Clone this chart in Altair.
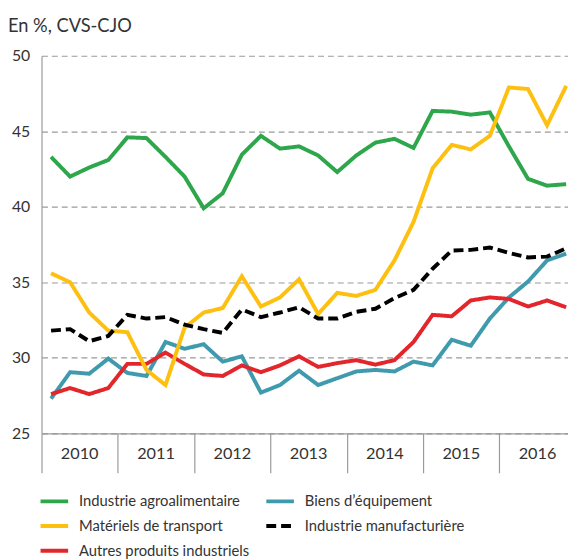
import altair as alt
import pandas as pd

years = ["2010", "2011", "2012", "2013", "2014", "2015", "2016"]
series_names = [
    "Industrie agroalimentaire",
    "Matériels de transport",
    "Autres produits industriels",
    "Biens d’équipement",
    "Industrie manufacturière",
]
series_colors = ["#2ea64b", "#fdc010", "#e3262c", "#3f9aad", "#000000"]
series_dash = [[1, 0], [1, 0], [1, 0], [1, 0], [10, 5]]

agro = [43.3, 42.0, 42.6, 43.1, 44.6, 44.55, 43.3, 42.0, 39.9, 40.9, 43.45, 44.7, 43.85, 44.0,
        43.4, 42.3, 43.4, 44.25, 44.5, 43.9, 46.35, 46.3, 46.1, 46.25, 44.0, 41.85, 41.4, 41.5]
biens = [27.3, 29.05, 28.95, 29.95, 29.0, 28.8, 31.05, 30.6, 30.9, 29.75, 30.1, 27.7, 28.2, 29.15,
         28.2, 28.65, 29.1, 29.2, 29.1, 29.75, 29.5, 31.2, 30.8, 32.6, 34.0, 35.05, 36.45, 36.9]
transport = [35.6, 35.0, 33.0, 31.8, 31.7, 29.2, 28.2, 32.0, 33.0, 33.3, 35.4, 33.4, 34.0, 35.2,
             32.9, 34.3, 34.1, 34.5, 36.45, 39.0, 42.55, 44.1, 43.8, 44.7, 47.9, 47.8, 45.4, 48.0]
manuf = [31.8, 31.9, 31.1, 31.45, 32.85, 32.6, 32.7, 32.2, 31.9, 31.65, 33.2, 32.7, 33.0, 33.35,
         32.6, 32.6, 33.05, 33.25, 33.95, 34.5, 35.9, 37.1, 37.15, 37.3, 36.95, 36.65, 36.7, 37.25]
autres = [27.6, 28.0, 27.6, 28.0, 29.6, 29.6, 30.35, 29.6, 28.9, 28.8, 29.5, 29.05, 29.5, 30.1,
          29.4, 29.65, 29.85, 29.55, 29.85, 31.05, 32.85, 32.75, 33.8, 34.0, 33.9, 33.4, 33.8, 33.35]

y_ticks = [25, 30, 35, 40, 45, 50]
ytitle = "En %, CVS-CJO"

FONT = "Lato"
W, H = 534, 383
QPX = 19.35
XMAX = W / QPX

draw_order = [("Industrie agroalimentaire", agro), ("Biens d’équipement", biens),
              ("Autres produits industriels", autres), ("Matériels de transport", transport),
              ("Industrie manufacturière", manuf)]
rows = []
for name, vals in draw_order:
    for i, v in enumerate(vals):
        rows.append({"serie": name, "q": i + 0.5, "v": v})
df = pd.DataFrame(rows)

year_df = pd.DataFrame({"year": years, "q": [i * 4 + 2 for i in range(len(years))]})

xscale = alt.Scale(domain=[0, XMAX], nice=False, zero=False)
yscale = alt.Scale(domain=[25, 50], nice=False, zero=False)

legend = alt.Legend(
    title=None, orient="none", legendX=-3, legendY=436, columns=2,
    symbolType="stroke", symbolStrokeWidth=4, symbolSize=784,
    labelFont=FONT, labelFontSize=15, labelColor="#333333", labelOffset=9,
    rowPadding=1, columnPadding=9, padding=0, labelLimit=400,
)

lines = alt.Chart(df).mark_line(strokeWidth=4, strokeJoin="miter", strokeCap="butt").encode(
    x=alt.X("q:Q", scale=xscale, axis=alt.Axis(
        values=[i * 4 for i in range(len(years))], labels=False, title=None, grid=False,
        tickSize=40, tickColor="#9a9a9a", tickWidth=1.2, domainColor="#9a9a9a", domainWidth=1.2)),
    y=alt.Y("v:Q", scale=yscale, axis=alt.Axis(
        values=y_ticks, title=None, ticks=False, labelPadding=12, labelFont=FONT,
        labelFontSize=16, labelColor="#333333", grid=True, gridDash=[6, 4],
        gridColor="#9a9a9a", gridWidth=1.2, domainColor="#9a9a9a", domainWidth=1.2)),
    color=alt.Color("serie:N", scale=alt.Scale(domain=series_names, range=series_colors),
                    legend=legend),
    strokeDash=alt.StrokeDash("serie:N", scale=alt.Scale(
        domain=series_names, range=series_dash), legend=legend),
    detail="serie:N",
)

year_text = alt.Chart(year_df).mark_text(font=FONT, fontSize=16.5, color="#333333",
                                         baseline="middle").encode(
    x=alt.X("q:Q", scale=xscale), text="year:N", y=alt.value(H + 21))

title_text = alt.Chart(pd.DataFrame({"t": [ytitle]})).mark_text(
    font=FONT, fontSize=18.5, color="#333333", align="left", baseline="middle").encode(
    text="t:N", x=alt.value(-34), y=alt.value(-30))

chart = alt.layer(lines, year_text, title_text).properties(
    width=W, height=H,
    autosize=alt.AutoSizeParams(type="none"),
    padding={"left": 34, "top": 44.5, "right": 0, "bottom": 124.5},
).configure_view(stroke=None)

chart.save("out.html", embed_options={"renderer": "svg", "actions": False})
